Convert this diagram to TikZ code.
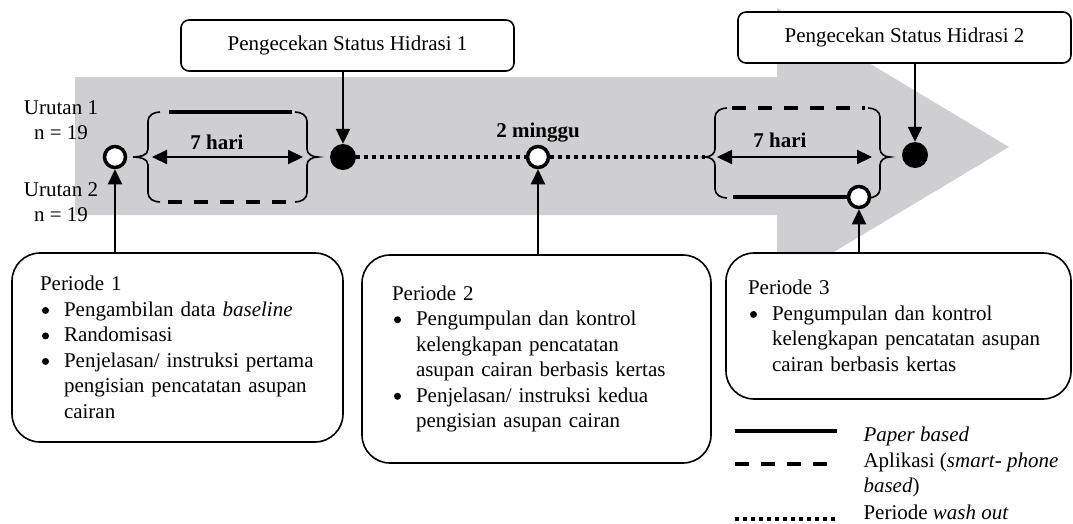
\documentclass[tikz,border=0pt]{standalone}
\usepackage{fontspec}
\setmainfont{Liberation Serif}
\usetikzlibrary{arrows.meta}
\definecolor{arrowgrey}{RGB}{207,206,208}
\newcommand{\fs}{\fontsize{21}{25.5}\selectfont}
\newcommand{\bul}{\makebox[24pt][l]{\hspace{2pt}\tikz[baseline=-6pt]\fill (3.5pt,0pt) circle[radius=3.5pt];}}
\newcommand{\cont}{\hspace*{24pt}}

\begin{document}
\begin{tikzpicture}[x=1pt,y=-1pt,
  every node/.append style={font=\fs},
  hbox/.style={draw,line width=1.6pt,rounded corners=8pt,fill=white,minimum width=333pt,minimum height=51pt,inner sep=0pt},
  pbox/.style={draw,line width=1.6pt,rounded corners=28pt,fill=white,align=left,inner ysep=0pt},
  opendot/.style={circle,draw,line width=3.5pt,fill=white,minimum size=21pt,inner sep=0pt},
  fulldot/.style={circle,fill=black,minimum size=26pt,inner sep=0pt},
  tip/.style={-{Triangle[length=15pt,width=14pt]},line width=2.2pt},
  dtip/.style={{Triangle[length=15pt,width=14pt]}-{Triangle[length=15pt,width=14pt]},line width=2.2pt},
  paper/.style={line width=3.5pt},
  app/.style={line width=3.5pt,dash pattern=on 14pt off 12pt},
  washout/.style={line width=4pt,dash pattern=on 4pt off 4pt},
  brace/.style={line width=1.6pt}]
\useasboundingbox (0,0) rectangle (1073,523);
\pgfmathsetmacro{\ya}{157}
\pgfmathsetmacro{\yb}{157}
% big grey arrow
\fill[arrowgrey] (75,77)--(777,77)--(777,8)--(1009,147)--(777,286)--(777,215)--(75,215)--cycle;
\node[align=center] (u1) at (61,120) {Urutan 1\\n = 19};
\node[align=center] (u2) at (61,202) {Urutan 2\\n = 19};
\node[hbox] (h1) at (347.5,45.5) {Pengecekan Status Hidrasi 1};
\node[hbox] (h2) at (904.5,37.5) {Pengecekan Status Hidrasi 2};
% first 7 days
\draw[brace] (160,112) to[out=180,in=90] (148,121)--(148,149) to[out=-90,in=0] (133,\ya) to[out=0,in=90] (148,165)--(148,193) to[out=-90,in=180] (160,202);
\draw[brace] (295,112) to[out=0,in=90] (307,121)--(307,149) to[out=-90,in=180] (318,\ya) to[out=180,in=90] (307,165)--(307,193) to[out=-90,in=0] (295,202);
\draw[paper] (169,112)--(292,112);
\draw[app] (168,202)--(290,202);
\coordinate (a1) at (152,\ya);
\coordinate (a2) at (303,\ya);
\draw[dtip] (a1)--(a2);
\node[font=\fs\bfseries] (d1) at (217,142) {7 hari};
% second 7 days
\draw[brace] (727,108) to[out=180,in=90] (715,117)--(715,149) to[out=-90,in=0] (705,\yb) to[out=0,in=90] (715,165)--(715,189) to[out=-90,in=180] (727,198);
\draw[brace] (868,108) to[out=0,in=90] (880,117)--(880,149) to[out=-90,in=180] (890,\yb) to[out=180,in=90] (880,165)--(880,189) to[out=-90,in=0] (868,198);
\draw[app] (732,108)--(865,108);
\coordinate (a3) at (717,\yb);
\coordinate (a4) at (872,\yb);
\draw[dtip] (a3)--(a4);
\node[font=\fs\bfseries] (d2) at (780,140) {7 hari};
\coordinate (t3) at (705,\yb);
% time points
\node[opendot] (c1) at (115,\ya) {};
\node[fulldot] (c2) at (343,\ya) {};
\node[opendot] (c3) at (538,\ya) {};
\node[fulldot] (c4) at (915,155) {};
\node[opendot] (c5) at (859,197) {};
\node[font=\fs\bfseries] (w) at (538,133) {2 minggu};
\draw[washout] (c2)--(c3);
\draw[washout] (c3)--(t3);
\draw[paper] (733,197)--(c5);
% periods
\node[pbox,text width=275pt,inner xsep=28pt,minimum height=189pt] (p1) at (177.5,347.5) {Periode 1\\
\bul Pengambilan data \textit{baseline}\\
\bul Randomisasi\\
\bul Penjelasan/ instruksi pertama\\
\cont pengisian pencatatan asupan\\
\cont cairan};
\node[pbox,text width=289pt,inner xsep=30pt,minimum height=208pt] (p2) at (536.5,359) {Periode 2\\
\bul Pengumpulan dan kontrol\\
\cont kelengkapan pencatatan\\
\cont asupan cairan berbasis kertas\\
\bul Penjelasan/ instruksi kedua\\
\cont pengisian asupan cairan};
\node[pbox,text width=301pt,inner xsep=22pt,minimum height=146pt] (p3) at (898.5,326) {Periode 3\\
\bul Pengumpulan dan kontrol\\
\cont kelengkapan pencatatan asupan\\
\cont cairan berbasis kertas};
\draw[tip] (h1.south -| c2)--(c2);
\draw[tip] (h2.south -| c4)--(c4);
\draw[tip] (p1.north -| c1)--(c1);
\draw[tip] (p2.north -| c3)--(c3);
\draw[tip] (p3.north -| c5)--(c5);
% legend
\draw[paper] (735,431)--(837,431);
\draw[app] (735,464)--(837,464);
\draw[washout] (735,519)--(837,519);
\node[anchor=west] (l1) at (860,436) {\textit{Paper based}};
\node[anchor=west,align=left] (l2) at (860,475) {Aplikasi (\textit{smart- phone}\\\textit{based})};
\node[anchor=west] (l3) at (860,512) {Periode \textit{wash out}};
\end{tikzpicture}
\end{document}
